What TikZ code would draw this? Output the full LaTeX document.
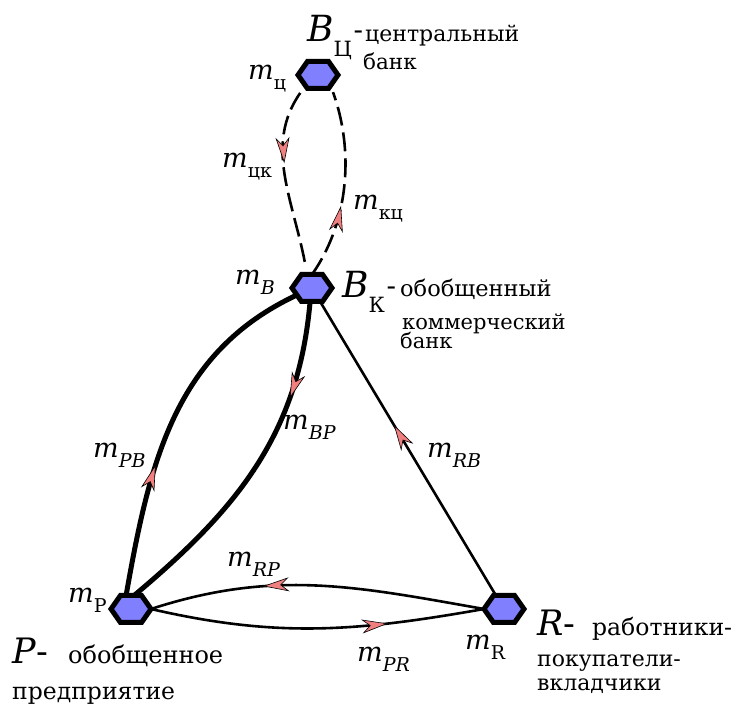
\documentclass[tikz,border=0pt]{standalone}
\usepackage{fontspec}
\setmainfont{DejaVu Serif}
\usetikzlibrary{shapes.symbols, arrows.meta, decorations.markings}
\definecolor{HexBlue}{RGB}{128,128,255}
\definecolor{TipPink}{RGB}{240,128,128}

\newcommand{\mfont}{\fontsize{27}{30}\selectfont}
\newcommand{\subfont}{\fontsize{19}{20}\selectfont}
\newcommand{\mlab}[1]{\mfont\textit{m}\raisebox{-10pt}{\subfont #1}}
\newcommand{\biglab}[2]{{\fontsize{36}{38}\selectfont\textit{#1}}\raisebox{-15pt}{\fontsize{21}{22}\selectfont #2}\,{\fontsize{28}{30}\selectfont\raisebox{2pt}{-}}}

\begin{document}
\begin{tikzpicture}[x=1pt, y=1pt,
    hexa/.style={signal, signal to=west and east, signal pointer angle=110,
                 minimum width=40pt, minimum height=27pt, inner sep=0pt, outer sep=0pt,
                 draw=black, line width=5pt, fill=HexBlue},
    lab/.style={anchor=base west, inner sep=0pt},
    txt/.style={anchor=base west, inner sep=0pt, font=\fontsize{21}{22}\selectfont},
    thickflow/.style={line width=5pt},
    thinflow/.style={line width=2.6pt},
    dashflow/.style={line width=2.6pt, dash pattern=on 19pt off 7pt},
    midarrow/.style={postaction={decorate}, decoration={markings,
        mark=at position #1 with {\arrow{Stealth[length=26pt, width=14pt, inset=8pt,
            line width=0.6pt, fill=TipPink, color=black]}}}}
  ]
  \useasboundingbox (0,0) rectangle (740,707);

  % agents
  \node[hexa] (C) at (318,632) {};
  \node[hexa] (B) at (312,419) {};
  \node[hexa] (P) at (131,98) {};
  \node[hexa] (R) at (504,98) {};

  % central bank <-> commercial bank
  \draw[dashflow, midarrow=0.42, shorten <=9pt, shorten >=6pt]
       (C.220) to[out=235, in=100] (B.110);
  \draw[dashflow, midarrow=0.38, shorten >=7pt]
       (B.north) to[out=55, in=-70, looseness=0.9] (C.320);

  % commercial bank <-> enterprise
  \draw[thickflow, midarrow=0.37] (P.110) to[out=80, in=205] (B.205);
  \draw[thickflow, midarrow=0.28] (B.262) to[out=265, in=40] (P.77);

  % workers -> bank
  \draw[thinflow, midarrow=0.58] (R) -- (B);

  % enterprise <-> workers
  \draw[thinflow, midarrow=0.66] (R.west) to[out=170, in=18] (P.east);
  \draw[thinflow, midarrow=0.71] (P.east) to[out=-13, in=190] (R.west);

  % money stocks and flows
  \node[lab] (mC)  at (248,627) {\mlab{ц}};
  \node[lab] (mCK) at (222,539) {\mlab{цк}};
  \node[lab] (mKC) at (353,497) {\mlab{кц}};
  \node[lab] (mB)  at (235,422) {\mlab{\textit{B}}};
  \node[lab] (mBP) at (283,277) {\mlab{\textit{BP}}};
  \node[lab] (mPB) at (93,249)  {\mlab{\textit{PB}}};
  \node[lab] (mRB) at (427,249) {\mlab{\textit{RB}}};
  \node[lab] (mRP) at (227,140) {\mlab{\textit{RP}}};
  \node[lab] (mP)  at (68,104)  {\mlab{P}};
  \node[lab] (mPR) at (357,45)  {\mlab{\textit{PR}}};
  \node[lab] (mR)  at (465,57)  {\mlab{R}};

  % names of the agents
  \node[lab] (nC) at (307,665) {\biglab{B}{Ц}};
  \node[txt, font=\fontsize{22}{23}\selectfont] (nC1) at (365,665) {центральный};
  \node[txt, font=\fontsize{21.5}{22}\selectfont] (nC2) at (363,637) {банк};

  \node[lab] (nB) at (342,409) {\biglab{B}{К}};
  \node[txt, font=\fontsize{22.5}{23}\selectfont] (nB1) at (400,410) {обобщенный};
  \node[txt] (nB2) at (402,377) {коммерческий};
  \node[txt] (nB3) at (400,358) {банк};

  \node[lab, font=\fontsize{35}{37}\selectfont] (nP) at (12,43) {\textit{P}-};
  \node[txt, font=\fontsize{24}{25}\selectfont] (nP1) at (68,43) {обобщенное};
  \node[txt, font=\fontsize{23.5}{24}\selectfont] (nP2) at (12,7) {предприятие};

  \node[lab, font=\fontsize{35}{37}\selectfont] (nR) at (537,71) {\textit{R}-};
  \node[txt, font=\fontsize{23.5}{24}\selectfont] (nR1) at (592,71) {работники-};
  \node[txt, font=\fontsize{22}{23}\selectfont] (nR2) at (537,40) {покупатели-};
  \node[txt, font=\fontsize{22}{23}\selectfont] (nR3) at (537,16) {вкладчики};
\end{tikzpicture}
\end{document}
